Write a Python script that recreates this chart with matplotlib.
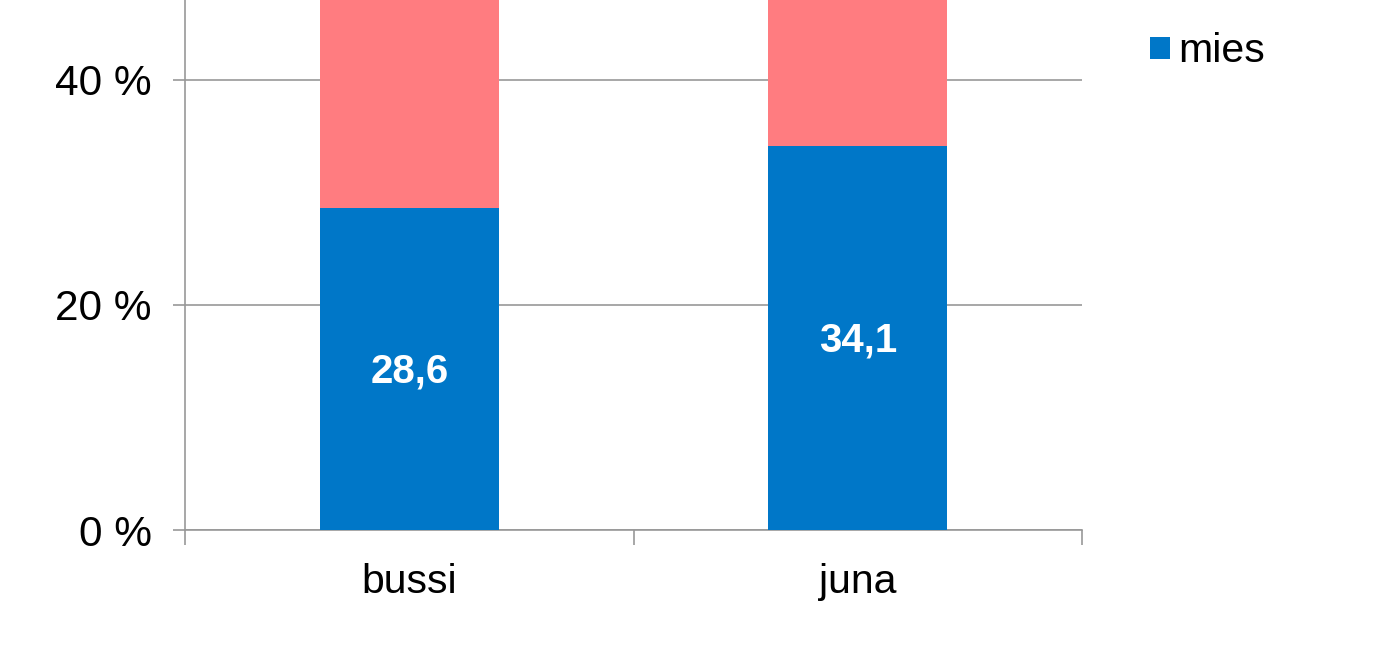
import matplotlib
matplotlib.use("Agg")
import matplotlib.pyplot as plt
import numpy as np

plt.rcParams['font.family'] = ['Liberation Sans', 'DejaVu Sans']

# data
categories = ['bussi', 'juna']
mies = [28.6, 34.1]
nainen = [71.4, 65.9]
y_ticks = [0, 20, 40]
y_tick_labels = ['0 %', '20 %', '40 %']

blue = '#0077C8'
pink = '#FF7C80'
grey = '#989898'

fig = plt.figure(figsize=(13.75, 6.51), dpi=100)
ax = fig.add_axes([185 / 1375, 121 / 651, 897 / 1375, 530 / 651])

x = np.arange(len(categories))
ax.bar(x, mies, width=0.4, color=blue, label='mies', zorder=3)
ax.bar(x, nainen, width=0.4, bottom=mies, color=pink, label='nainen', zorder=3)

for xi, v in zip(x, mies):
    ax.text(xi, v / 2 - 0.2, str(v).replace('.', ','), ha='center', va='center',
            color='white', fontsize=29, fontweight='bold', zorder=4)

ax.set_xlim(-0.5, len(categories) - 0.5)
ax.set_ylim(0, 47.11)

ax.set_yticks(y_ticks)
ax.set_yticklabels(y_tick_labels, fontsize=30.5)
ax.tick_params(axis='y', length=9, width=1.2, color=grey, pad=15)

ax.set_xticks(x)
ax.set_xticklabels(categories, fontsize=29.5)
ax.set_xticks(np.arange(-0.5, len(categories)), minor=True)
ax.tick_params(axis='x', which='major', length=0, pad=24)
ax.tick_params(axis='x', which='minor', length=11, width=1.2, color=grey)

ax.yaxis.grid(True, color=grey, linewidth=1.2, zorder=0)
for side in ['top', 'right']:
    ax.spines[side].set_visible(False)
for side in ['left', 'bottom']:
    ax.spines[side].set_color(grey)
    ax.spines[side].set_linewidth(1.2)

# only the "mies" entry is visible in the cropped original
handles, labels = ax.get_legend_handles_labels()
fig.legend(handles[:1], labels[:1], loc='upper left',
           bbox_to_anchor=(1134 / 1375, 1 - 16 / 651), frameon=False,
           fontsize=29.5, handlelength=0.47, handleheight=0.47,
           handletextpad=0.2, borderaxespad=0)

fig.savefig('out.png', dpi=100)
